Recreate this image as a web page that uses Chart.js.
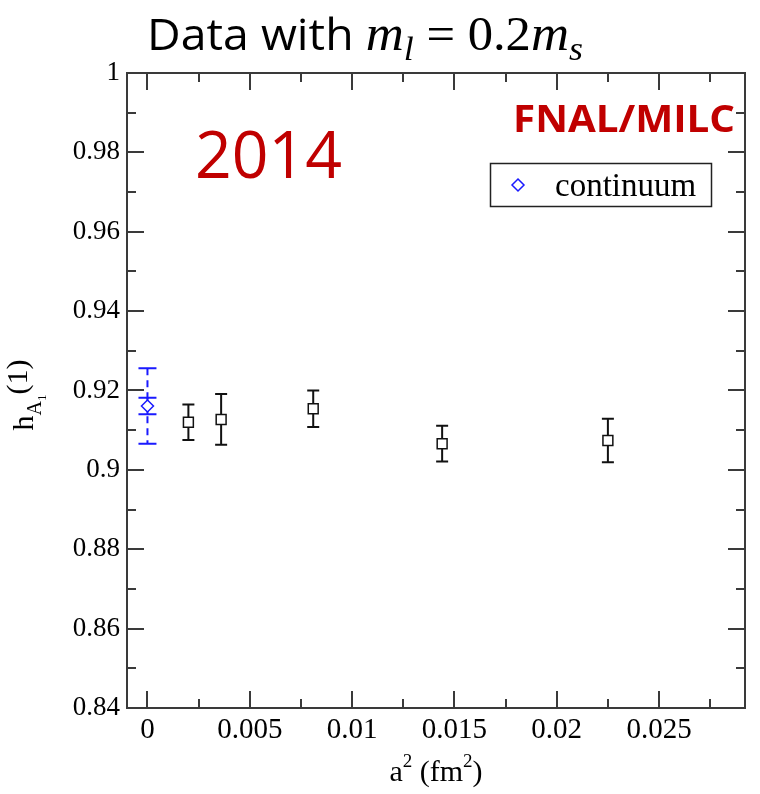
<!DOCTYPE html>
<html lang="en">
<head>
<meta charset="UTF-8">
<title>h_A1(1) vs a^2</title>
<script src="https://cdn.jsdelivr.net/npm/chart.js"></script>
<style>
  html, body { margin: 0; padding: 0; background: #fff; }
  #box { width: 760px; height: 794px; }
</style>
</head>
<body>
<div id="box"><canvas id="grafico"></canvas></div>

<script>
// lattice spacings a^2 (fm^2) and h_A1(1) values with errors
const a2 = [0.0020, 0.0036, 0.0081, 0.0144, 0.0225];
const hA1 = [0.9120, 0.9127, 0.9154, 0.9066, 0.9074];
const hA1Err = [0.0045, 0.0064, 0.0046, 0.0045, 0.0055];

// continuum extrapolation: stat error and total error
const contX = [0];
const contY = [0.9161];
const contStat = [0.0021];
const contTotal = [0.0095];

// axis ticks
const xTicks = [0, 0.005, 0.01, 0.015, 0.02, 0.025];
const xTickLabels = ['0', '0.005', '0.01', '0.015', '0.02', '0.025'];
const xMinor = [0.0025, 0.0075, 0.0125, 0.0175, 0.0225, 0.0275];
const yTicks = [0.84, 0.86, 0.88, 0.9, 0.92, 0.94, 0.96, 0.98, 1];
const yTickLabels = ['0.84', '0.86', '0.88', '0.9', '0.92', '0.94', '0.96', '0.98', '1'];
const yMinor = [0.85, 0.87, 0.89, 0.91, 0.93, 0.95, 0.97, 0.99];

const BLUE = '#1a1aff';
const RED = '#c00000';
const FRAME = '#3a3a3a';
const SERIF = '"Liberation Serif"';

Chart.defaults.font.family = SERIF;
Chart.defaults.color = '#000';

// draws a row of text pieces (different fonts / offsets), optionally squeezed to a width
function drawRuns(ctx, runs, x, y, width) {
  let w = 0;
  for (const r of runs) { ctx.font = r.font; w += ctx.measureText(r.text).width; }
  const sx = width ? width / w : 1;
  ctx.save();
  ctx.translate(x, y);
  ctx.scale(sx, 1);
  let cx = 0;
  for (const r of runs) {
    ctx.font = r.font;
    ctx.fillStyle = r.color || '#000';
    ctx.fillText(r.text, cx, r.dy || 0);
    cx += ctx.measureText(r.text).width;
  }
  ctx.restore();
  return w * sx;
}
function runsWidth(ctx, runs) {
  let w = 0;
  for (const r of runs) { ctx.font = r.font; w += ctx.measureText(r.text).width; }
  return w;
}

const erros = {
  id: 'erros',
  beforeDatasetsDraw(chart) {
    const { ctx, scales: { x, y } } = chart;
    ctx.save();
    ctx.lineWidth = 2;
    // lattice points
    ctx.strokeStyle = '#111';
    for (let i = 0; i < a2.length; i++) {
      const px = x.getPixelForValue(a2[i]);
      const top = y.getPixelForValue(hA1[i] + hA1Err[i]);
      const bot = y.getPixelForValue(hA1[i] - hA1Err[i]);
      ctx.beginPath();
      ctx.moveTo(px, top); ctx.lineTo(px, bot);
      ctx.moveTo(px - 6, top); ctx.lineTo(px + 6, top);
      ctx.moveTo(px - 6, bot); ctx.lineTo(px + 6, bot);
      ctx.stroke();
    }
    // continuum: dashed total error, solid stat error
    ctx.strokeStyle = BLUE;
    for (let i = 0; i < contX.length; i++) {
      const px = x.getPixelForValue(contX[i]);
      const tTop = y.getPixelForValue(contY[i] + contTotal[i]);
      const tBot = y.getPixelForValue(contY[i] - contTotal[i]);
      const sTop = y.getPixelForValue(contY[i] + contStat[i]);
      const sBot = y.getPixelForValue(contY[i] - contStat[i]);
      ctx.setLineDash([7, 5]);
      ctx.beginPath();
      ctx.moveTo(px, tTop); ctx.lineTo(px, tBot);
      ctx.stroke();
      ctx.setLineDash([]);
      ctx.beginPath();
      ctx.moveTo(px, sTop); ctx.lineTo(px, sBot);
      for (const yy of [tTop, tBot, sTop, sBot]) {
        ctx.moveTo(px - 9, yy); ctx.lineTo(px + 9, yy);
      }
      ctx.stroke();
    }
    ctx.restore();
  },
  afterDraw(chart) {
    const { ctx, chartArea: a, scales: { x, y } } = chart;
    ctx.save();
    // frame with inward ticks on all sides
    ctx.strokeStyle = FRAME;
    ctx.lineWidth = 2;
    ctx.strokeRect(a.left, a.top, a.right - a.left, a.bottom - a.top);
    ctx.beginPath();
    const yt = (vals, len) => vals.forEach(v => {
      const py = Math.round(y.getPixelForValue(v));
      ctx.moveTo(a.left, py); ctx.lineTo(a.left + len, py);
      ctx.moveTo(a.right, py); ctx.lineTo(a.right - len, py);
    });
    const xt = (vals, len) => vals.forEach(v => {
      const px = Math.round(x.getPixelForValue(v));
      ctx.moveTo(px, a.bottom); ctx.lineTo(px, a.bottom - len);
      ctx.moveTo(px, a.top); ctx.lineTo(px, a.top + len);
    });
    yt(yTicks, 17); yt(yMinor, 9);
    xt(xTicks, 17); xt(xMinor, 9);
    ctx.stroke();

    // title
    ctx.textBaseline = 'alphabetic';
    drawRuns(ctx, [
      { text: 'Data with ', font: '44px "Open Sans"' },
      { text: 'm', font: 'italic 50px ' + SERIF },
      { text: 'l', font: 'italic 34px ' + SERIF, dy: 10 },
      { text: ' = 0.2', font: '48px ' + SERIF },
      { text: 'm', font: 'italic 50px ' + SERIF },
      { text: 's', font: 'italic 34px ' + SERIF, dy: 10 }
    ], 147, 50, 436);

    // year and collaboration
    drawRuns(ctx, [{ text: '2014', font: '66px "Open Sans"', color: RED }], 195, 178, 147);
    drawRuns(ctx, [{ text: 'FNAL/MILC', font: 'bold 38px "Open Sans"', color: RED }], 513, 132, 222);

    // legend
    ctx.strokeStyle = '#222';
    ctx.lineWidth = 1.5;
    ctx.strokeRect(490.5, 163.5, 221, 43);
    ctx.strokeStyle = BLUE;
    ctx.lineWidth = 1.5;
    ctx.beginPath();
    ctx.moveTo(518, 179); ctx.lineTo(524, 185); ctx.lineTo(518, 191); ctx.lineTo(512, 185);
    ctx.closePath();
    ctx.stroke();
    drawRuns(ctx, [{ text: chart.data.datasets[0].label, font: '33px ' + SERIF }], 555, 196);

    // axis titles
    const xr = [
      { text: 'a', font: '30px ' + SERIF },
      { text: '2', font: '19px ' + SERIF, dy: -14 },
      { text: ' (fm', font: '30px ' + SERIF },
      { text: '2', font: '19px ' + SERIF, dy: -14 },
      { text: ')', font: '30px ' + SERIF }
    ];
    drawRuns(ctx, xr, 436 - runsWidth(ctx, xr) / 2, 781);

    const yr = [
      { text: 'h', font: '30px ' + SERIF },
      { text: 'A', font: '20px ' + SERIF, dy: 8 },
      { text: '1', font: '13px ' + SERIF, dy: 13 },
      { text: '(1)', font: '30px ' + SERIF, dy: -6 }
    ];
    ctx.translate(33, 395);
    ctx.rotate(-Math.PI / 2);
    drawRuns(ctx, yr, -runsWidth(ctx, yr) / 2, 0);
    ctx.restore();
  }
};

const ctx = document.getElementById('grafico');

new Chart(ctx, {
  type: 'scatter',
  data: {
    datasets: [
      {
        label: 'continuum',
        data: contX.map((v, i) => ({ x: v, y: contY[i] })),
        pointStyle: 'rectRot',
        pointRadius: 6,
        borderColor: BLUE,
        backgroundColor: '#fff',
        borderWidth: 1.5
      },
      {
        label: 'lattice',
        data: a2.map((v, i) => ({ x: v, y: hA1[i] })),
        pointStyle: 'rect',
        pointRadius: 7,
        borderColor: '#111',
        backgroundColor: '#fff',
        borderWidth: 1.5
      }
    ]
  },
  options: {
    responsive: true,
    maintainAspectRatio: false,
    animation: false,
    layout: { padding: { left: 0, right: 15, top: 73, bottom: 0 } },
    plugins: { legend: { display: false }, tooltip: { enabled: false } },
    scales: {
      x: {
        type: 'linear',
        min: -0.001,
        max: 0.0292,
        grid: { display: false, drawTicks: false },
        border: { display: false },
        afterBuildTicks: s => { s.ticks = xTicks.map(v => ({ value: v })); },
        afterFit: s => { s.height = 86; },
        ticks: {
          padding: 5,
          color: '#000',
          font: { family: SERIF, size: 29 },
          callback: (v) => xTickLabels[xTicks.indexOf(v)]
        }
      },
      y: {
        min: 0.84,
        max: 1,
        grid: { display: false, drawTicks: false },
        border: { display: false },
        afterBuildTicks: s => { s.ticks = yTicks.map(v => ({ value: v })); },
        afterFit: s => { s.width = 127; },
        ticks: {
          padding: 7,
          color: '#000',
          font: { family: SERIF, size: 27 },
          callback: (v) => yTickLabels[yTicks.indexOf(v)]
        }
      }
    }
  },
  plugins: [erros]
});
</script>
</body>
</html>
